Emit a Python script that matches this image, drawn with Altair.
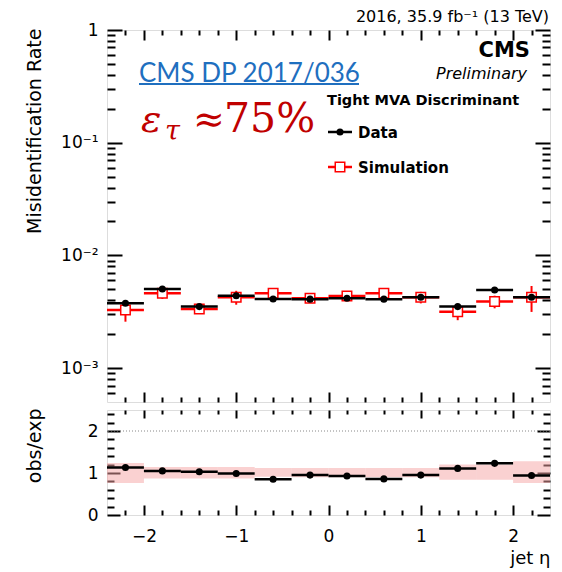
import altair as alt
import pandas as pd

# ---------------- data ----------------
bin_low = [-2.4, -2.0, -1.6, -1.2, -0.8, -0.4, 0.0, 0.4, 0.8, 1.2, 1.6, 2.0]
bin_high = [-2.0, -1.6, -1.2, -0.8, -0.4, 0.0, 0.4, 0.8, 1.2, 1.6, 2.0, 2.4]
bin_center = [-2.2, -1.8, -1.4, -1.0, -0.6, -0.2, 0.2, 0.6, 1.0, 1.4, 1.8, 2.2]

data_rate = [0.00376, 0.00503, 0.00351, 0.00439, 0.00410, 0.00409,
             0.00416, 0.00409, 0.00425, 0.00351, 0.00493, 0.00425]
data_err = [0.00012, 0.00012, 0.00010, 0.00012, 0.00010, 0.00008,
            0.00008, 0.00010, 0.00012, 0.00012, 0.00014, 0.00014]
sim_rate = [0.00328, 0.00461, 0.00334, 0.00425, 0.00461, 0.00416,
            0.00436, 0.00461, 0.00425, 0.00316, 0.00389, 0.00425]
sim_err = [0.00070, 0.00050, 0.00030, 0.00060, 0.00020, 0.00020,
           0.00030, 0.00040, 0.00050, 0.00050, 0.00050, 0.00110]

ratio = [1.13, 1.05, 1.03, 0.99, 0.85, 0.95, 0.93, 0.86, 0.95, 1.11, 1.23, 0.94]
ratio_err = [0.03, 0.03, 0.03, 0.03, 0.02, 0.02, 0.02, 0.02, 0.03, 0.03, 0.03, 0.04]
band_low = [0.76, 0.87, 0.87, 0.87, 0.91, 0.90, 0.90, 0.90, 0.90, 0.84, 0.84, 0.76]
band_high = [1.24, 1.14, 1.14, 1.14, 1.12, 1.12, 1.12, 1.12, 1.12, 1.20, 1.20, 1.28]
ref_line = [2.0]

# tick values
x_major = [-2, -1, 0, 1, 2]
x_minor = [-2.2, -1.8, -1.6, -1.4, -1.2, -0.8, -0.6, -0.4, -0.2,
           0.2, 0.4, 0.6, 0.8, 1.2, 1.4, 1.6, 1.8, 2.2]
y_major = [1, 0.1, 0.01, 0.001]
y_minor = [0.0006, 0.0007, 0.0008, 0.0009,
           0.002, 0.003, 0.004, 0.005, 0.006, 0.007, 0.008, 0.009,
           0.02, 0.03, 0.04, 0.05, 0.06, 0.07, 0.08, 0.09,
           0.2, 0.3, 0.4, 0.5, 0.6, 0.7, 0.8, 0.9]
r_major = [0, 1, 2]
r_minor = [0.2, 0.4, 0.6, 0.8, 1.2, 1.4, 1.6, 1.8, 2.2, 2.4]

df = pd.DataFrame({
    "lo": bin_low, "hi": bin_high, "c": bin_center,
    "data": data_rate, "sim": sim_rate, "ratio": ratio,
    "blo": band_low, "bhi": band_high,
})
df["data_lo"] = df["data"] - pd.Series(data_err)
df["data_hi"] = df["data"] + pd.Series(data_err)
df["sim_lo"] = df["sim"] - pd.Series(sim_err)
df["sim_hi"] = df["sim"] + pd.Series(sim_err)
df["r_lo"] = df["ratio"] - pd.Series(ratio_err)
df["r_hi"] = df["ratio"] + pd.Series(ratio_err)

W, H1, H2 = 443, 372, 105
FONT = "DejaVu Sans"

xs = alt.Scale(domain=[-2.4, 2.4], nice=False, zero=False)
ys = alt.Scale(type="log", domain=[0.0005, 1], nice=False)
rs = alt.Scale(domain=[0, 2.5], nice=False, zero=False)


def tick_axis(orient, offset, values, size):
    return alt.Axis(orient=orient, offset=offset, values=values, tickSize=size,
                    labels=False, domain=False, grid=False, title=None,
                    ticks=True, tickColor="black", tickWidth=2)


def axis_layers(yfield, yscale, x_axes, y_axes):
    layers = []
    n = max(len(x_axes), len(y_axes))
    for i in range(n):
        xa = x_axes[i] if i < len(x_axes) else None
        ya = y_axes[i] if i < len(y_axes) else None
        layers.append(
            alt.Chart(df).mark_point(opacity=0).encode(
                x=alt.X("c:Q", scale=xs, axis=xa),
                y=alt.Y(yfield, type="quantitative", scale=yscale, axis=ya),
            )
        )
    return layers


def label(text, x, y, size, font=FONT, weight="normal", style="normal",
          color="black", align="left"):
    return alt.Chart(pd.DataFrame({"t": [text]})).mark_text(
        align=align, baseline="alphabetic", font=font, fontSize=size,
        fontWeight=weight, fontStyle=style, color=color,
    ).encode(x=alt.value(x), y=alt.value(y), text="t:N")


X = lambda f: alt.X(f, type="quantitative", scale=xs, axis=None)
YU = lambda f: alt.Y(f, type="quantitative", scale=ys, axis=None)
YR = lambda f: alt.Y(f, type="quantitative", scale=rs, axis=None)

# ---------------- upper panel ----------------
y_label_axis = alt.Axis(
    orient="left", values=y_major, ticks=False, domain=False, grid=False,
    labelExpr="datum.value == 1 ? '1' : datum.value == 0.1 ? '10⁻¹' : datum.value == 0.01 ? '10⁻²' : '10⁻³'",
    labelPadding=9, labelFontSize=17, labelFont=FONT, labelColor="black",
    title="Misidentification Rate", titleFontSize=19, titleFont=FONT,
    titleFontWeight="normal", titleColor="black", titleAngle=270,
    titleAlign="right", titleBaseline="alphabetic", titleX=-67, titleY=-2,
)
upper_axes = axis_layers(
    "data", ys,
    [tick_axis("bottom", -H1, x_major, 10), tick_axis("bottom", -H1, x_minor, 5),
     tick_axis("top", -H1, x_major, 10), tick_axis("top", -H1, x_minor, 5)],
    [y_label_axis,
     tick_axis("right", -W, y_major, 15), tick_axis("right", -W, y_minor, 8),
     tick_axis("left", -W, y_major, 15), tick_axis("left", -W, y_minor, 8)],
)

base = alt.Chart(df)
sim_bar = base.mark_rule(color="red", strokeWidth=2.5).encode(x=X("lo"), x2="hi", y=YU("sim"))
sim_errb = base.mark_rule(color="red", strokeWidth=2).encode(x=X("c"), y=YU("sim_lo"), y2="sim_hi")
sim_pt = base.mark_point(shape="square", filled=True, fill="white", stroke="red",
                         strokeWidth=1.5, size=90, opacity=1).encode(x=X("c"), y=YU("sim"))
dat_bar = base.mark_rule(color="black", strokeWidth=2.5).encode(x=X("lo"), x2="hi", y=YU("data"))
dat_errb = base.mark_rule(color="black", strokeWidth=2).encode(x=X("c"), y=YU("data_lo"), y2="data_hi")
dat_pt = base.mark_circle(color="black", size=50, opacity=1).encode(x=X("c"), y=YU("data"))

one = pd.DataFrame({"a": [0]})
leg_data_line = alt.Chart(one).mark_rule(color="black", strokeWidth=2.5).encode(
    x=alt.value(221), x2=alt.value(245), y=alt.value(102))
leg_data_pt = alt.Chart(one).mark_circle(color="black", size=50, opacity=1).encode(
    x=alt.value(233), y=alt.value(102))
leg_sim_line = alt.Chart(one).mark_rule(color="red", strokeWidth=2.5).encode(
    x=alt.value(221), x2=alt.value(245), y=alt.value(137))
leg_sim_pt = alt.Chart(one).mark_point(shape="square", filled=True, fill="white", stroke="red",
                                       strokeWidth=1.5, size=90, opacity=1).encode(
    x=alt.value(233), y=alt.value(137))
dp_underline = alt.Chart(one).mark_rule(color="#1f6fbf", strokeWidth=2).encode(
    x=alt.value(32), x2=alt.value(252), y=alt.value(54))

texts = [
    label("2016, 35.9 fb⁻¹ (13 TeV)", 442, -8, 16, align="right"),
    label("CMS", 423, 27, 21, weight="bold", align="right"),
    label("Preliminary", 420, 49, 16, style="italic", align="right"),
    label("Tight MVA Discriminant", 220, 75, 14.5, weight="bold"),
    label("Data", 251, 108, 15, weight="bold"),
    label("Simulation", 251, 143, 15, weight="bold"),
    label("CMS DP 2017/036", 32, 52, 26, font="Lato", color="#1f6fbf"),
    label("ε", 34, 102, 38, font="DejaVu Serif", style="italic", color="#c00000"),
    label("τ", 58, 110, 27, font="DejaVu Serif", style="italic", color="#c00000"),
    label("≈", 86, 102, 38, font="DejaVu Serif", color="#c00000"),
    label("75%", 117, 102, 41, font="DejaVu Serif", color="#c00000"),
]

upper = alt.layer(
    *upper_axes, sim_bar, sim_errb, sim_pt, dat_bar, dat_errb, dat_pt,
    leg_data_line, leg_data_pt, leg_sim_line, leg_sim_pt, dp_underline, *texts,
).resolve_axis(x="independent", y="independent").properties(width=W, height=H1)

# ---------------- lower panel ----------------
x_label_axis = alt.Axis(
    orient="bottom", values=x_major, ticks=False, domain=False, grid=False,
    labelPadding=13, labelFontSize=17, labelFont=FONT, labelColor="black",
    title="jet η", titleFontSize=18, titleFont=FONT, titleFontWeight="normal",
    titleColor="black", titleX=W, titleY=48, titleAlign="right",
    titleAnchor="end", titleBaseline="alphabetic",
)
r_label_axis = alt.Axis(
    orient="left", values=r_major, ticks=False, domain=False, grid=False,
    labelPadding=9, labelFontSize=17, labelFont=FONT, labelColor="black",
    title="obs/exp", titleFontSize=19, titleFont=FONT, titleFontWeight="normal",
    titleColor="black", titleAngle=270, titleAlign="right",
    titleBaseline="alphabetic", titleX=-67, titleY=-2,
)
lower_axes = axis_layers(
    "ratio", rs,
    [x_label_axis,
     tick_axis("bottom", -H2, x_major, 8), tick_axis("bottom", -H2, x_minor, 4),
     tick_axis("top", -H2, x_major, 10), tick_axis("top", -H2, x_minor, 5)],
    [r_label_axis,
     tick_axis("right", -W, r_major, 13), tick_axis("right", -W, r_minor, 7),
     tick_axis("left", -W, r_major, 13), tick_axis("left", -W, r_minor, 7)],
)

band = base.mark_rect(fill="#f5a3a3", opacity=0.5).encode(x=X("lo"), x2="hi", y=YR("blo"), y2="bhi")
ref = alt.Chart(pd.DataFrame({"r": ref_line})).mark_rule(
    color="#888888", strokeWidth=1, strokeDash=[1, 2]).encode(y=YR("r"))
r_bar = base.mark_rule(color="black", strokeWidth=2.5).encode(x=X("lo"), x2="hi", y=YR("ratio"))
r_err = base.mark_rule(color="black", strokeWidth=2).encode(x=X("c"), y=YR("r_lo"), y2="r_hi")
r_pt = base.mark_circle(color="black", size=50, opacity=1).encode(x=X("c"), y=YR("ratio"))

lower = alt.layer(
    *lower_axes, band, ref, r_bar, r_err, r_pt,
).resolve_axis(x="independent", y="independent").properties(width=W, height=H2)

chart = alt.vconcat(upper, lower, spacing=8, bounds="flush").properties(
    padding={"left": 24, "top": 8, "right": 5, "bottom": 5},
).configure_view(stroke="black", strokeWidth=2).configure(background="white")

chart.save("out.html", embed_options={"renderer": "svg", "actions": False})
